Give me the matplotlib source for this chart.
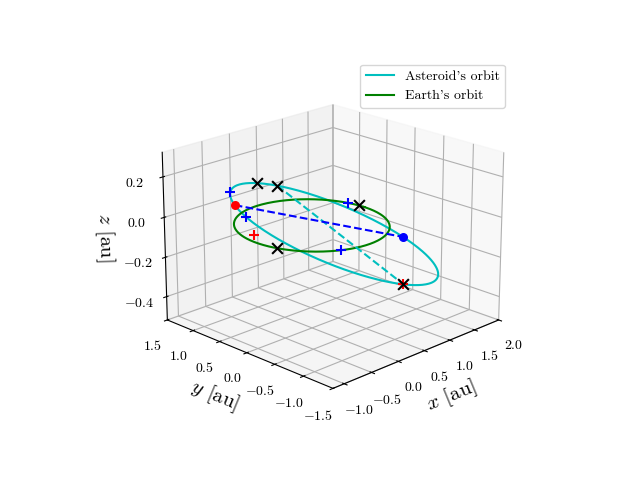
import numpy as np
import matplotlib
matplotlib.use("Agg")
import matplotlib.pyplot as plt

plt.rcParams["font.family"] = "serif"
plt.rcParams["font.serif"] = ["cmr10"]
plt.rcParams["mathtext.fontset"] = "cm"
plt.rcParams["axes.formatter.use_mathtext"] = True

# orbital parameters (read approx from picture)
a_ast, e_ast, inc_deg, peri_dir_deg = 1.35, 0.22, 8.0, 138.0
earth_r = 1.0
# eccentric anomalies (deg) of markers on asteroid orbit
ast_cross_E = [300, 315, 125]
ast_plus_E = [355, 30]
ast_red_plus_E = [125]
cyan_pair_E = [300, 125]
red_dot_E = 15
blue_dot_E = 222
# Earth-orbit marker angles (deg)
earth_cross = [198, 5]
earth_plus = [15, 245]
red_plus_free = [-0.5, 0.55, -0.06]

def ast(E):
    E = np.radians(np.asarray(E, float))
    s = a_ast * (np.cos(E) - e_ast)
    t = a_ast * np.sqrt(1 - e_ast**2) * np.sin(E)
    i = np.radians(inc_deg)
    sx, tz = s * np.cos(i), s * np.sin(i)
    p = np.radians(peri_dir_deg)
    x = sx * np.cos(p) - t * np.sin(p)
    y = sx * np.sin(p) + t * np.cos(p)
    return x, y, tz

def earth(deg):
    d = np.radians(np.asarray(deg, float))
    return earth_r*np.cos(d), earth_r*np.sin(d), np.zeros_like(d)

fig = plt.figure(figsize=(6.4, 4.8), dpi=100)
ax = fig.add_subplot(projection="3d")
ax.view_init(elev=20, azim=-135)

E = np.linspace(0, 360, 400)
ax.plot(*ast(E), color="c", label="Asteroid's orbit")
ax.plot(*earth(E), color="g", label="Earth's orbit")

ax.plot(*ast(cyan_pair_E), "c--")
rd = ast([red_dot_E]); bd = ast([blue_dot_E])
ax.plot([rd[0][0], bd[0][0]], [rd[1][0], bd[1][0]], [rd[2][0], bd[2][0]], "b--")
kw = dict(s=60, linewidths=1.5, depthshade=False)
ax.scatter(*ast(ast_cross_E), marker="x", color="k", **kw)
ax.scatter(*earth(earth_cross), marker="x", color="k", **kw)
ax.scatter(*ast(ast_plus_E), marker="+", color="b", **kw)
ax.scatter(*earth(earth_plus), marker="+", color="b", **kw)
ax.scatter(*ast(ast_red_plus_E), marker="+", color="r", **kw)
ax.scatter(*red_plus_free, marker="+", color="r", **kw)
ax.scatter(*rd, color="r", s=30, depthshade=False)
ax.scatter(*bd, color="b", s=30, depthshade=False)

ax.set_xlim(-1.2, 2.0)
ax.set_ylim(-1.5, 1.5)
ax.set_zlim(-0.52, 0.32)
ax.set_xticks([-1.0, -0.5, 0.0, 0.5, 1.0, 1.5, 2.0])
ax.set_yticks([-1.5, -1.0, -0.5, 0.0, 0.5, 1.0, 1.5])
ax.set_zticks([-0.4, -0.2, 0.0, 0.2])
ax.set_xlabel("$x$ [au]", fontsize=15)
ax.set_ylabel("$y$ [au]", fontsize=15)
ax.set_zlabel("$z$ [au]", fontsize=15)
ax.legend(loc="upper right", bbox_to_anchor=(0.8, 0.88), bbox_transform=fig.transFigure)
fig.savefig("out.png", dpi=100)
